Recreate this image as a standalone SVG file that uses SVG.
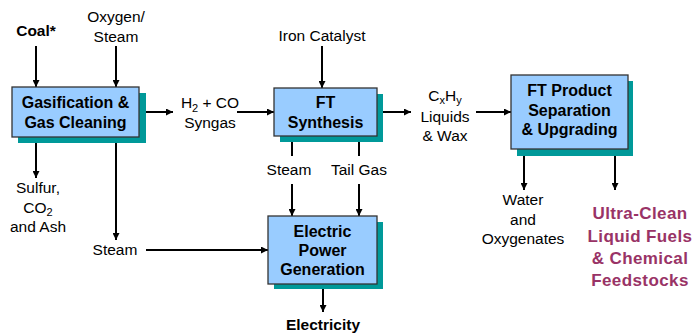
<svg xmlns="http://www.w3.org/2000/svg" width="694" height="334" viewBox="0 0 694 334">
<defs>
<marker id="ah" viewBox="0 0 10 10" refX="10" refY="5" markerWidth="7" markerHeight="7" markerUnits="userSpaceOnUse" orient="auto"><path d="M0,0 L10,5 L0,10 z" fill="#000"/></marker>
<style>
.box{fill:#99CCFF;stroke:#333;stroke-width:1.3}
.sh{fill:#009999}
.bt{font-family:"Liberation Sans",Arial,sans-serif;font-weight:bold;font-size:16px;fill:#000;text-anchor:middle}
.t{font-family:"Liberation Sans",Arial,sans-serif;font-size:15.5px;fill:#000;text-anchor:middle}
.tb{font-family:"Liberation Sans",Arial,sans-serif;font-size:15.5px;font-weight:bold;fill:#000;text-anchor:middle}
.pu{font-family:"Liberation Sans",Arial,sans-serif;font-size:17px;font-weight:bold;fill:#993366;text-anchor:middle;letter-spacing:0.4px}
.sub{font-size:11px}
.c{stroke:#000;stroke-width:2;fill:none}
.a{stroke:#000;stroke-width:2;fill:none;marker-end:url(#ah)}
</style>
</defs>
<rect width="694" height="334" fill="#fff"/>
<g id="connectors">
<line class="a" x1="36" y1="46" x2="36" y2="87"/>
<line class="a" x1="116" y1="46" x2="116" y2="87"/>
<line class="a" x1="139" y1="112" x2="173" y2="112"/>
<line class="a" x1="237" y1="112" x2="274" y2="112"/>
<line class="a" x1="322" y1="46" x2="322" y2="88"/>
<line class="a" x1="377" y1="112" x2="411" y2="112"/>
<line class="a" x1="476" y1="112" x2="511" y2="112"/>
<line class="a" x1="36" y1="143" x2="36" y2="178"/>
<line class="a" x1="116" y1="143" x2="116" y2="240"/>
<line class="a" x1="146" y1="250" x2="268" y2="250"/>
<line class="c" x1="292" y1="142" x2="292" y2="156"/>
<line class="c" x1="359" y1="142" x2="359" y2="156"/>
<line class="a" x1="292" y1="184" x2="292" y2="216"/>
<line class="a" x1="359" y1="184" x2="359" y2="216"/>
<line class="a" x1="323" y1="284" x2="323" y2="312"/>
<line class="a" x1="524" y1="149" x2="524" y2="190"/>
<line class="a" x1="615" y1="149" x2="615" y2="190"/>
</g>
<g id="gasification">
<rect class="sh" x="18" y="93" width="128" height="50"/>
<rect class="box" x="12" y="87" width="127" height="50"/>
<text class="bt" x="75.5" y="108">Gasification &amp;</text>
<text class="bt" x="75.5" y="128">Gas Cleaning</text>
</g>
<g id="ft-synthesis">
<rect class="sh" x="280" y="94" width="103" height="48"/>
<rect class="box" x="274" y="88" width="103" height="48"/>
<text class="bt" x="325.5" y="108">FT</text>
<text class="bt" x="325.5" y="128">Synthesis</text>
</g>
<g id="ft-product">
<rect class="sh" x="517" y="81" width="116" height="75"/>
<rect class="box" x="511" y="75" width="117" height="74"/>
<text class="bt" x="569.5" y="96">FT Product</text>
<text class="bt" x="569.5" y="116">Separation</text>
<text class="bt" x="569.5" y="135">&amp; Upgrading</text>
</g>
<g id="power">
<rect class="sh" x="274" y="222" width="109" height="67"/>
<rect class="box" x="268" y="216" width="109" height="68"/>
<text class="bt" x="322.5" y="237">Electric</text>
<text class="bt" x="322.5" y="256">Power</text>
<text class="bt" x="322.5" y="275">Generation</text>
</g>
<g id="labels">
<text class="tb" x="36" y="36">Coal*</text>
<text class="t" x="116" y="22">Oxygen/</text>
<text class="t" x="116" y="42">Steam</text>
<text class="t" x="322" y="41">Iron Catalyst</text>
<text class="t" x="210" y="108">H<tspan class="sub" dy="4">2</tspan><tspan dy="-4"> + CO</tspan></text>
<text class="t" x="210" y="128">Syngas</text>
<text class="t" x="445" y="101">C<tspan class="sub" dy="3">x</tspan><tspan dy="-3">H</tspan><tspan class="sub" dy="3">y</tspan></text>
<text class="t" x="445" y="122">Liquids</text>
<text class="t" x="445" y="141">&amp; Wax</text>
<text class="t" x="38" y="193">Sulfur,</text>
<text class="t" x="38" y="213">CO<tspan class="sub" dy="3">2</tspan></text>
<text class="t" x="38" y="232">and Ash</text>
<text class="t" x="115" y="255">Steam</text>
<text class="t" x="289" y="175">Steam</text>
<text class="t" x="359" y="175">Tail Gas</text>
<text class="tb" x="323" y="330">Electricity</text>
<text class="t" x="523" y="205">Water</text>
<text class="t" x="523" y="225">and</text>
<text class="t" x="523" y="244">Oxygenates</text>
<text class="pu" x="640" y="219">Ultra-Clean</text>
<text class="pu" x="640" y="242">Liquid Fuels</text>
<text class="pu" x="640" y="264">&amp; Chemical</text>
<text class="pu" x="640" y="286">Feedstocks</text>
</g>
</svg>
